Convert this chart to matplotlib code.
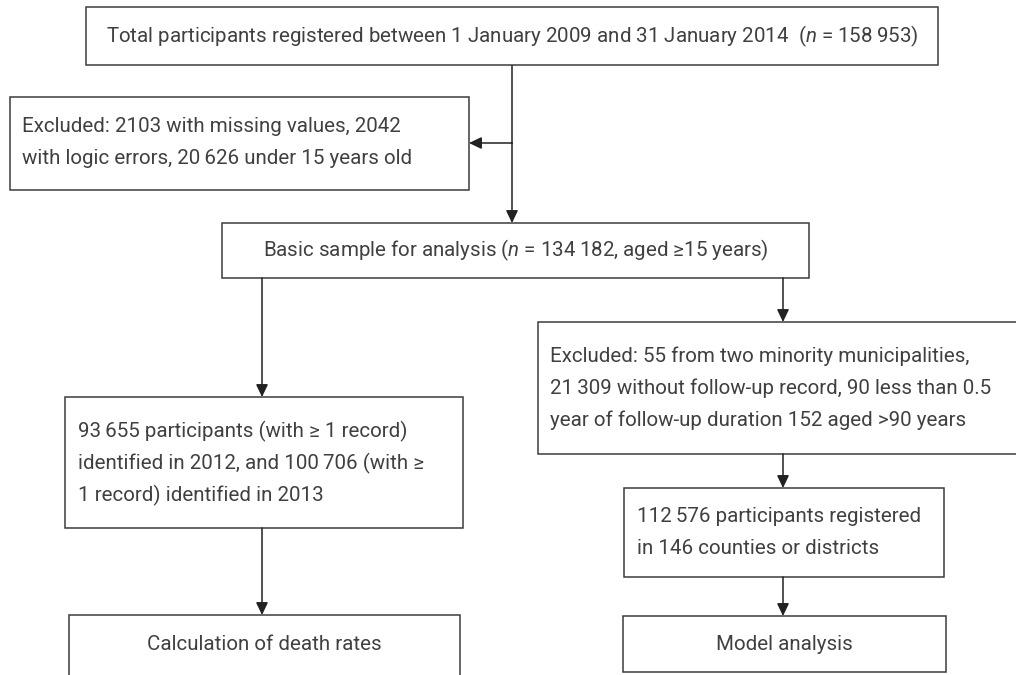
import matplotlib
matplotlib.use("Agg")
import matplotlib.pyplot as plt
from matplotlib.patches import Rectangle

FONT = 'Roboto'
plt.rcParams['font.family'] = [FONT, 'DejaVu Sans']
plt.rcParams['mathtext.fontset'] = 'custom'
plt.rcParams['mathtext.rm'] = FONT
plt.rcParams['mathtext.it'] = FONT + ':italic'

# ---- content ----
top_text = ["Total participants registered between 1 January 2009 and 31 January 2014  ($n$ = 158\u2009953)"]
excl1_text = ["Excluded: 2103 with missing values, 2042",
              "with logic errors, 20\u2009626 under 15 years old"]
basic_text = ["Basic sample for analysis ($n$ = 134\u2009182, aged \u226515 years)"]
excl2_text = ["Excluded: 55 from two minority municipalities,",
              "21\u2009309 without follow-up record, 90 less than 0.5",
              "year of follow-up duration 152 aged >90 years"]
left_text = ["93\u2009655 participants (with \u2265 1 record)",
             "identified in 2012, and 100\u2009706 (with \u2265",
             "1 record) identified in 2013"]
right_text = ["112\u2009576 participants registered",
              "in 146 counties or districts"]
calc_text = ["Calculation of death rates"]
model_text = ["Model analysis"]

W, H = 1016, 675
fig = plt.figure(figsize=(W / 100, H / 100), dpi=100)
ax = fig.add_axes([0, 0, 1, 1])
ax.set_xlim(0, W)
ax.set_ylim(H, 0)
ax.axis('off')

EC = '#3c3c3c'
TC = '#404040'
LW = 1.1
FW = 'normal'

# auto-fit font size to the top line width
probe = ax.text(0, 0, top_text[0], fontsize=13, fontweight=FW)
fig.canvas.draw()
wpx = probe.get_window_extent().width
probe.remove()
FS = 13 * 809.0 / wpx


def box(x0, y0, x1, y1):
    ax.add_patch(Rectangle((x0, y0), x1 - x0, y1 - y0, facecolor='white',
                           edgecolor=EC, lw=LW, zorder=2))


def lines_left(lines, x, yc, step=32):
    n = len(lines)
    for i, s in enumerate(lines):
        y = yc + (i - (n - 1) / 2) * step
        ax.text(x, y, s, fontsize=FS, fontweight=FW, color=TC,
                ha='left', va='center', zorder=3)


def center_text(lines, x, yc):
    ax.text(x, yc, lines[0], fontsize=FS, fontweight=FW, color=TC,
            ha='center', va='center', zorder=3)


def arrow(x0, y0, x1, y1):
    ax.annotate('', xy=(x1, y1), xytext=(x0, y0),
                arrowprops=dict(arrowstyle='-|>,head_length=0.75,head_width=0.36',
                                mutation_scale=10, color='#222222', lw=LW,
                                shrinkA=0, shrinkB=0), zorder=4)


# boxes
box(86, 7, 938, 65)
center_text(top_text, 512, 36)

box(10, 97, 469, 190)
lines_left(excl1_text, 22, 143)

box(222, 223, 809, 278)
center_text(basic_text, 515.5, 250.5)

box(538, 322, 1040, 454)
lines_left(excl2_text, 550, 388)

box(65, 397, 463, 528)
lines_left(left_text, 78, 463)

box(624, 488, 944, 577)
lines_left(right_text, 637, 532)

box(69, 615, 460, 700)
center_text(calc_text, 264, 645)

box(623, 616, 946, 672)
center_text(model_text, 784, 645)

# connectors
ax.plot([512, 512], [65, 143], color='#222222', lw=LW, zorder=1)
arrow(512, 143, 469, 143)
arrow(512, 143, 512, 223)
arrow(262, 278, 262, 397)
arrow(262, 528, 262, 615)
arrow(783, 278, 783, 322)
arrow(783, 454, 783, 488)
arrow(783, 577, 783, 616)

fig.savefig('out.png', dpi=100, facecolor='white')
